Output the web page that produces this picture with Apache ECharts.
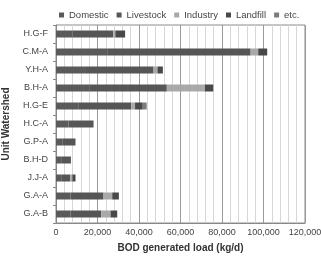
<!DOCTYPE html>
<html>
<head>
<meta charset="utf-8">
<script src="https://cdn.jsdelivr.net/npm/echarts@6/dist/echarts.min.js"></script>
<style>
  html, body { margin: 0; padding: 0; background: #fff; }
  #chart { width: 321px; height: 256px; }
</style>
</head>
<body>
<div id="chart"></div>
<script>
// watersheds, top to bottom
var watersheds = ["H.G-F", "C.M-A", "Y.H-A", "B.H-A", "H.G-E", "H.C-A", "G.P-A", "B.H-D", "J.J-A", "G.A-A", "G.A-B"];
// BOD generated load (kg/d) per source
var domestic  = [8000, 25000, 14000, 16000, 11000, 6000, 3000, 2500, 2500, 7000, 7000];
var livestock = [19600, 68800, 33000, 37400, 25200, 12100, 6400, 4700, 4400, 15900, 14800];
var industry  = [1000, 3650, 1900, 18400, 1900, 0, 0, 0, 1000, 4200, 4500];
var landfill  = [4700, 4330, 2600, 4000, 3700, 0, 0, 0, 1500, 3200, 3200];
var etc       = [0, 0, 0, 0, 1900, 0, 0, 0, 0, 0, 0];
var xTicks = [0, 20000, 40000, 60000, 80000, 100000, 120000];

var chart = echarts.init(document.getElementById("chart"));
var font = "Liberation Sans, Arial, sans-serif";

function bar(name, data, color) {
  return {
    name: name,
    type: "bar",
    stack: "total",
    data: data,
    barWidth: 7,
    itemStyle: { color: color },
    emphasis: { disabled: true }
  };
}

var option = {
  animation: false,
  textStyle: { fontFamily: font },
  legend: {
    top: 5,
    left: 54,
    width: 300,
    icon: "rect",
    itemWidth: 5,
    itemHeight: 5,
    itemGap: 8,
    textStyle: { fontSize: 9.5, color: "#444", fontFamily: font }
  },
  grid: {
    left: 56,
    right: 16,
    top: 25,
    bottom: 33,
    outerBoundsMode: "none",
    containLabel: false,
    show: true,
    borderColor: "#8a8a8a",
    borderWidth: 1
  },
  xAxis: {
    type: "value",
    min: xTicks[0],
    max: xTicks[xTicks.length - 1],
    interval: 20000,
    name: "BOD generated load (kg/d)",
    nameLocation: "middle",
    nameGap: 20,
    nameTextStyle: { fontSize: 10, fontWeight: "bold", color: "#333", fontFamily: font },
    axisLine: { show: true, lineStyle: { color: "#888" } },
    axisTick: { show: false },
    axisLabel: {
      fontSize: 9,
      color: "#444",
      margin: 5,
      formatter: function (v) { return v.toLocaleString("en-US"); }
    },
    splitLine: { show: true, lineStyle: { color: "#9a9a9a" } },
    minorTick: { show: false, splitNumber: 5 },
    minorSplitLine: { show: true, lineStyle: { color: "#d6d6d6" } }
  },
  yAxis: {
    type: "category",
    data: watersheds,
    inverse: true,
    name: "Unit Watershed",
    nameLocation: "middle",
    nameGap: 43,
    nameRotate: 90,
    nameTextStyle: { fontSize: 10, fontWeight: "bold", color: "#333", fontFamily: font },
    axisLine: { show: true, lineStyle: { color: "#888" } },
    axisTick: { show: true, length: 3, lineStyle: { color: "#888" } },
    axisLabel: { fontSize: 9, color: "#444", margin: 8 },
    splitLine: { show: false }
  },
  series: [
    bar("Domestic", domestic, "#5a5a5a"),
    bar("Livestock", livestock, "#565656"),
    bar("Industry", industry, "#a9a9a9"),
    bar("Landfill", landfill, "#484848"),
    bar("etc.", etc, "#7c7c7c")
  ]
};
chart.setOption(option);
</script>
</body>
</html>
